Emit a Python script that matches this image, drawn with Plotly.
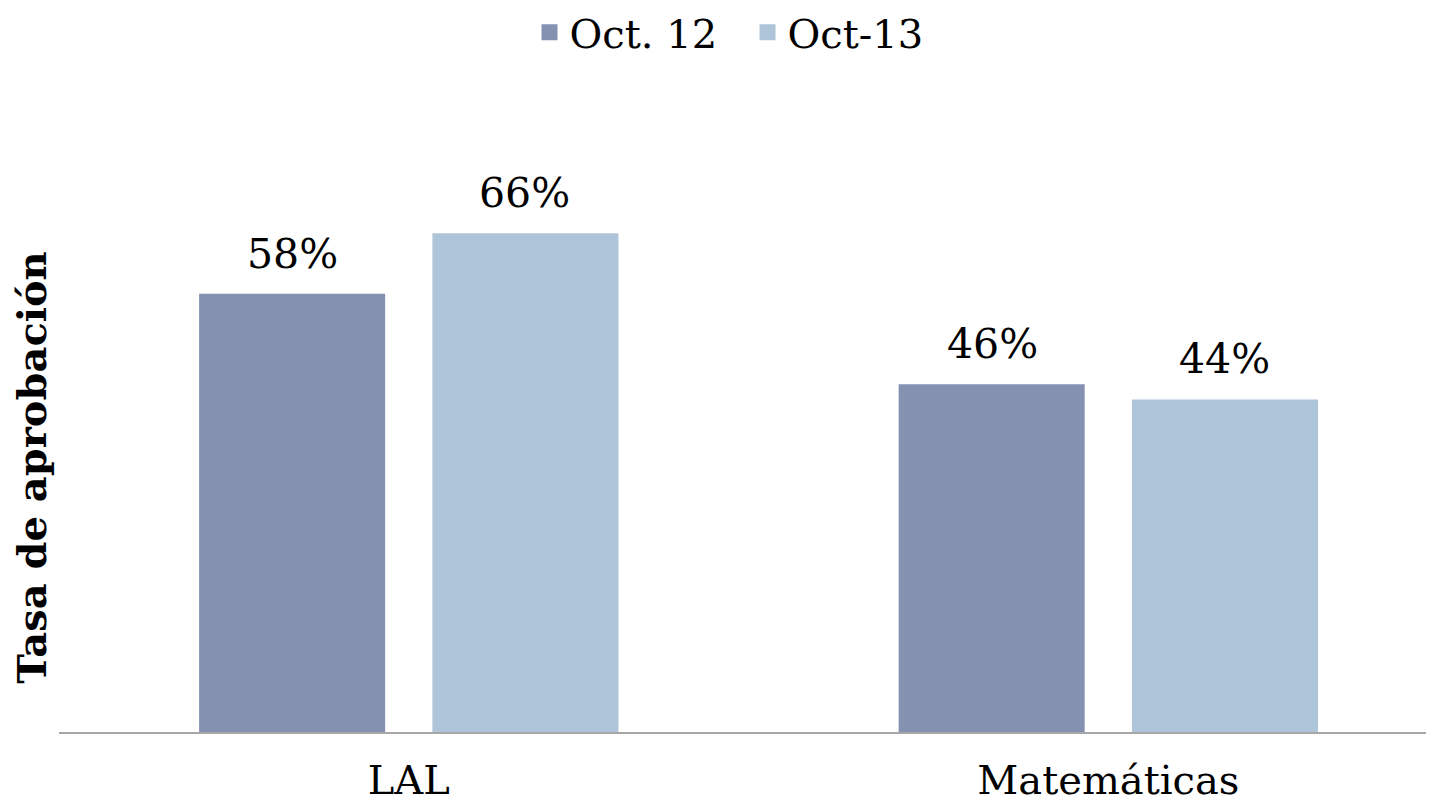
import plotly.graph_objects as go

categories = ["LAL", "Matemáticas"]
series_names = ["Oct. 12", "Oct-13"]
oct12 = [58, 46]
oct13 = [66, 44]
colors = ["#8591B1", "#AEC4D8"]
y_max = 70

FONT = "DejaVu Serif"
SLOT_PX = 232  # width of each bar slot in pixels (layout constant)

fig = go.Figure()
series = [oct12, oct13]
for name, vals, col in zip(series_names, series, colors):
    fig.add_trace(go.Bar(
        x=categories, y=vals, name=name, showlegend=False,
        marker=dict(color=col, line=dict(width=0)),
        hoverinfo="skip",
    ))
    # legend entry with square swatch
    fig.add_trace(go.Scatter(
        x=[None], y=[None], mode="markers", name=name + "  ",
        marker=dict(symbol="square", size=22, color=col),
    ))

annotations = []
for i, vals in enumerate(series):
    shift = (i - 0.5) * SLOT_PX
    for cat, v in zip(categories, vals):
        annotations.append(dict(
            x=cat, y=v, xref="x", yref="y", text=f"{v}%", showarrow=False,
            xanchor="center", yanchor="bottom", xshift=shift, yshift=14,
            font=dict(family=FONT, size=41, color="#000000"),
        ))

fig.update_layout(
    width=1434, height=805,
    margin=dict(l=51, r=0, t=195, b=81, autoexpand=False),
    paper_bgcolor="white", plot_bgcolor="white",
    barmode="group", bargap=0.333, bargroupgap=0.2026,
    showlegend=True,
    annotations=annotations,
    legend=dict(orientation="h", x=0.3402, xanchor="left", y=1.323, yref="paper",
                yanchor="middle", font=dict(family=FONT, size=40, color="#000000"),
                itemwidth=30, tracegroupgap=0, bgcolor="rgba(0,0,0,0)"),
    xaxis=dict(range=[-0.5, 1.477], showline=True, linecolor="#A6A6A6", linewidth=2,
               ticks="", tickfont=dict(family=FONT, size=40, color="#000000"),
               ticklabelstandoff=12, showgrid=False, zeroline=False, automargin=False,
               fixedrange=True),
    yaxis=dict(range=[0, y_max], showticklabels=False, showgrid=False, zeroline=False,
               showline=False, ticks="", automargin=False,
               title=dict(text="<b>Tasa de aprobación</b>",
                          font=dict(family=FONT, size=40, color="#000000"), standoff=0)),
)

fig.write_html("out.html")
